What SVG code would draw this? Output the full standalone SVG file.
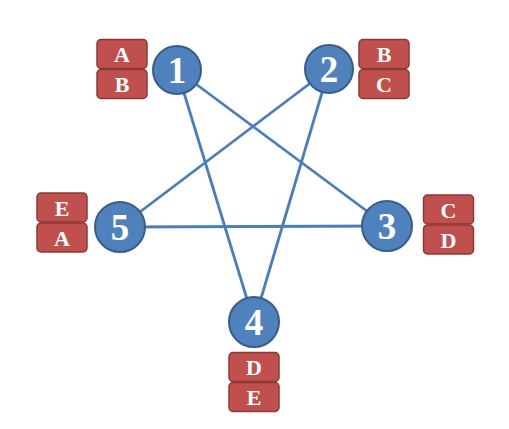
<svg xmlns="http://www.w3.org/2000/svg" width="509" height="429" viewBox="0 0 509 429">
<style>
.edge{stroke:#4a7ebb;stroke-width:2.8;fill:none}
.c{fill:#4f81bd;stroke:#385d8a;stroke-width:2}
.b{fill:#c0504d;stroke:#8c3836;stroke-width:1.5}
.n{fill:#fff;font-family:"Liberation Serif",serif;font-weight:bold;font-size:37px;text-anchor:middle}
.l{fill:#fff;font-family:"Liberation Serif",serif;font-weight:bold;font-size:22px;text-anchor:middle}
</style>
<rect width="509" height="429" fill="#fff"/>
<g id="connectors">
<line class="edge" x1="177" y1="70" x2="254" y2="322"/>
<line class="edge" x1="177" y1="70" x2="387" y2="226"/>
<line class="edge" x1="329" y1="69" x2="120" y2="227"/>
<line class="edge" x1="329" y1="69" x2="254" y2="322"/>
<line class="edge" x1="120" y1="227" x2="387" y2="226"/>
</g>
<g id="node1">
<rect class="b" x="97" y="39.5" width="50" height="29" rx="4"/>
<text class="l" x="122" y="62">A</text>
<rect class="b" x="97" y="69.5" width="50" height="29" rx="4"/>
<text class="l" x="122" y="92">B</text>
<circle class="c" cx="177" cy="70" r="24"/>
<text class="n" x="177" y="83">1</text>
</g>
<g id="node2">
<rect class="b" x="359" y="39.5" width="50" height="29" rx="4"/>
<text class="l" x="384" y="62">B</text>
<rect class="b" x="359" y="69.5" width="50" height="29" rx="4"/>
<text class="l" x="384" y="92">C</text>
<circle class="c" cx="329" cy="69" r="24"/>
<text class="n" x="329" y="82">2</text>
</g>
<g id="node3">
<rect class="b" x="423.5" y="195" width="50" height="29" rx="4"/>
<text class="l" x="448.5" y="218">C</text>
<rect class="b" x="423.5" y="225" width="50" height="29" rx="4"/>
<text class="l" x="448.5" y="248">D</text>
<circle class="c" cx="387" cy="226" r="25"/>
<text class="n" x="387" y="239">3</text>
</g>
<g id="node4">
<rect class="b" x="229" y="352.5" width="50" height="29" rx="4"/>
<text class="l" x="254" y="375">D</text>
<rect class="b" x="229" y="382.5" width="50" height="29" rx="4"/>
<text class="l" x="254" y="405">E</text>
<circle class="c" cx="254" cy="322" r="25"/>
<text class="n" x="254" y="335">4</text>
</g>
<g id="node5">
<rect class="b" x="37" y="193" width="50" height="29" rx="4"/>
<text class="l" x="62" y="216">E</text>
<rect class="b" x="37" y="223" width="50" height="29" rx="4"/>
<text class="l" x="62" y="246">A</text>
<circle class="c" cx="120" cy="227" r="25"/>
<text class="n" x="120" y="240">5</text>
</g>
</svg>
